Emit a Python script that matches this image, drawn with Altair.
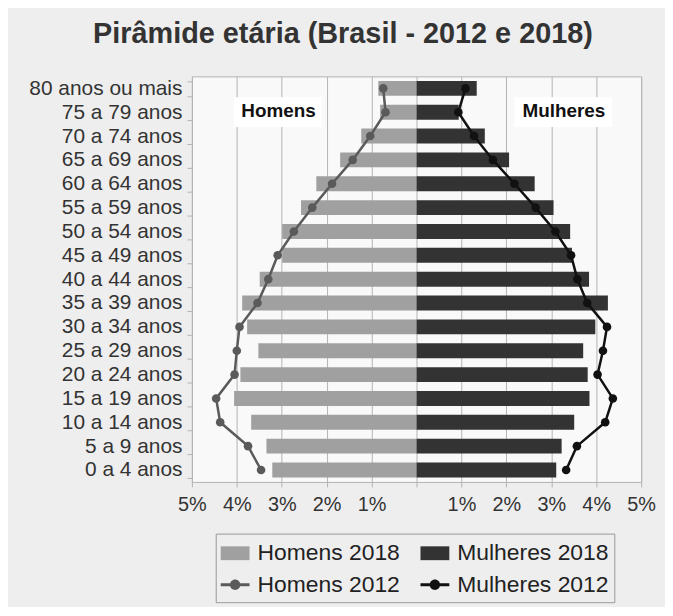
import altair as alt
import pandas as pd

# Age groups, bottom to top
faixas = ["0 a 4 anos", "5 a 9 anos", "10 a 14 anos", "15 a 19 anos", "20 a 24 anos",
          "25 a 29 anos", "30 a 34 anos", "35 a 39 anos", "40 a 44 anos", "45 a 49 anos",
          "50 a 54 anos", "55 a 59 anos", "60 a 64 anos", "65 a 69 anos", "70 a 74 anos",
          "75 a 79 anos", "80 anos ou mais"]

# Percent of population
homens_2018 = [3.21, 3.34, 3.68, 4.06, 3.92, 3.52, 3.77, 3.88, 3.49, 2.99, 2.99, 2.57, 2.23, 1.70, 1.23, 0.81, 0.85]
mulheres_2018 = [3.11, 3.23, 3.51, 3.85, 3.81, 3.71, 3.98, 4.26, 3.84, 3.46, 3.42, 3.05, 2.63, 2.06, 1.52, 0.94, 1.34]
homens_2012 = [3.46, 3.75, 4.37, 4.46, 4.05, 4.00, 3.94, 3.54, 3.30, 3.09, 2.73, 2.32, 1.88, 1.42, 1.03, 0.69, 0.74]
mulheres_2012 = [3.33, 3.57, 4.20, 4.37, 4.03, 4.15, 4.24, 3.80, 3.58, 3.44, 3.09, 2.65, 2.18, 1.70, 1.28, 0.93, 1.09]

series = ["Homens 2018", "Mulheres 2018", "Homens 2012", "Mulheres 2012"]
cores = ["#a0a0a0", "#333333", "#5a5a5a", "#111111"]
x_ticks = [-5, -4, -3, -2, -1, 0, 1, 2, 3, 4, 5]

ordem_y = list(reversed(faixas))

rows = []
for i, f in enumerate(faixas):
    rows.append({"faixa": f, "idx": i, "serie": "Homens 2018", "valor": -homens_2018[i]})
    rows.append({"faixa": f, "idx": i, "serie": "Mulheres 2018", "valor": mulheres_2018[i]})
    rows.append({"faixa": f, "idx": i, "serie": "Homens 2012", "valor": -homens_2012[i]})
    rows.append({"faixa": f, "idx": i, "serie": "Mulheres 2012", "valor": mulheres_2012[i]})
df = pd.DataFrame(rows)

bars_df = df[df["serie"].str.endswith("2018")]
lines_df = df[df["serie"].str.endswith("2012")]

FONT = "Liberation Sans"

x_enc = alt.X("valor:Q",
              scale=alt.Scale(domain=[-5, 5], nice=False, zero=False),
              axis=alt.Axis(values=x_ticks, title=None,
                            labelExpr="datum.value == 0 ? '' : abs(datum.value) + '%'",
                            labelFontSize=20, labelFont=FONT, labelColor="#333333",
                            labelPadding=8, tickSize=5, tickColor="#b3b3b3",
                            labelFlush=False, labelOverlap=False,
                            grid=True, gridColor="#b3b3b3", domain=False))
y_enc = alt.Y("faixa:N", sort=ordem_y,
              scale=alt.Scale(paddingInner=0.375, paddingOuter=0.1875),
              axis=alt.Axis(title=None, labelFontSize=21, labelFont=FONT,
                            labelColor="#333333", labelPadding=5, tickSize=5,
                            tickColor="#b3b3b3", tickBand="extent", domain=False))

color_scale = alt.Scale(domain=series, range=cores)

rect_path = "M-1,-0.48H1V0.48H-1Z"
lc_path = ("M-1,-0.1H1V0.1H-1Z M0.36,0A0.36,0.36 0 1,1 -0.36,0"
           "A0.36,0.36 0 1,1 0.36,0Z")
shape_scale = alt.Scale(domain=series, range=[rect_path, rect_path, lc_path, lc_path])

legenda = alt.Legend(title=None, orient="none", legendX=24, legendY=460,
                     direction="horizontal", columns=2, symbolSize=841,
                     labelFontSize=23, labelFont=FONT, labelColor="#222222",
                     strokeColor="#999999", padding=5,
                     columnPadding=20, rowPadding=5, labelOffset=8,
                     symbolStrokeWidth=0, symbolOpacity=1)

cor = alt.Color("serie:N", scale=color_scale, legend=legenda)

bars = alt.Chart(bars_df).mark_bar().encode(x=x_enc, y=y_enc, color=cor)

lines = alt.Chart(lines_df).mark_line(strokeWidth=2.5).encode(
    x="valor:Q", y=alt.Y("faixa:N", sort=ordem_y), color=cor, order="idx:Q",
)
points = alt.Chart(lines_df).mark_point(filled=True, size=75, opacity=1).encode(
    x="valor:Q", y=alt.Y("faixa:N", sort=ordem_y), color=cor,
)

legend_df = pd.DataFrame({"serie": series, "valor": [0, 0, 0, 0],
                          "faixa": [faixas[0]] * 4})
legend_layer = alt.Chart(legend_df).mark_point(filled=True, opacity=0).encode(
    x="valor:Q", y=alt.Y("faixa:N", sort=ordem_y),
    color=cor,
    shape=alt.Shape("serie:N", scale=shape_scale, legend=legenda),
)

# Annotation labels
ann_df = pd.DataFrame({"rotulo": ["Homens", "Mulheres"],
                       "x0": [-4.06, 2.18], "x1": [-2.11, 4.35],
                       "xc": [-3.07, 3.28],
                       "faixa": ["75 a 79 anos", "75 a 79 anos"]})
ann_box = alt.Chart(ann_df).mark_bar(color="white", size=30).encode(
    x="x0:Q", x2="x1:Q", y=alt.Y("faixa:N", sort=ordem_y))
ann_text = alt.Chart(ann_df).mark_text(font=FONT, fontWeight="bold", fontSize=19,
                                       color="#111111", dy=-1).encode(
    x="xc:Q", y=alt.Y("faixa:N", sort=ordem_y), text="rotulo:N")

chart = alt.layer(bars, ann_box, lines, points, legend_layer, ann_text).properties(
    width=452, height=408,
    title=alt.TitleParams("Pirâmide etária (Brasil - 2012 e 2018)", font=FONT,
                          fontSize=29, fontWeight="bold", color="#333333",
                          anchor="middle", dx=-74, offset=-6, baseline="alphabetic"),
    autosize=alt.AutoSizeParams(type="none"),
    padding={"left": 185, "top": 67, "right": 24, "bottom": 124},
).configure(background="#eeeeee").configure_view(fill="#f9f9f9", stroke="#b3b3b3")

chart.save("out.html", embed_options={"renderer": "svg", "actions": False})
